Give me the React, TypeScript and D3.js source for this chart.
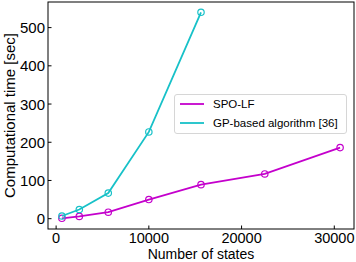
import React from "react";
import * as d3 from "d3";

const states = [625, 2500, 5625, 10000, 15625, 22500, 30625];
const spoLF = [1, 6, 17, 50, 89, 117, 186];
const gpStates = [625, 2500, 5625, 10000, 15625];
const gpBased = [7, 24, 67, 227, 540];
const xTicks = [0, 10000, 20000, 30000];
const yTicks = [0, 100, 200, 300, 400, 500];

const W = 356;
const H = 262;
const m = { left: 48, right: 354, top: 2, bottom: 229 };
const MAG = "#c400cc";
const CYAN = "#17c1c8";
const FONT = "'Liberation Sans', Arial, sans-serif";

export default function App() {
  const x = d3.scaleLinear().domain([-875, 32125]).range([m.left, m.right]);
  const y = d3.scaleLinear().domain([-27, 567]).range([m.bottom, m.top]);

  const line = d3
    .line<[number, number]>()
    .x((d) => x(d[0]))
    .y((d) => y(d[1]));

  const series = [
    { name: "SPO-LF", color: MAG, pts: states.map((s, i) => [s, spoLF[i]] as [number, number]) },
    { name: "GP-based algorithm [36]", color: CYAN, pts: gpStates.map((s, i) => [s, gpBased[i]] as [number, number]) },
  ];

  return (
    <svg width={W} height={H} style={{ position: "absolute", left: 0, top: 0, background: "#fff" }} fontFamily={FONT}>
      {/* series */}
      {series.map((s) => (
        <g key={s.name}>
          <path d={line(s.pts) || ""} fill="none" stroke={s.color} strokeWidth={1.8} />
          {s.pts.map((p, i) => (
            <circle key={i} cx={x(p[0])} cy={y(p[1])} r={3.2} fill="none" stroke={s.color} strokeWidth={1.2} />
          ))}
        </g>
      ))}

      {/* frame */}
      <rect x={m.left} y={m.top} width={m.right - m.left} height={m.bottom - m.top} fill="none" stroke="#000" strokeWidth={1} />

      {/* x ticks */}
      {xTicks.map((t) => (
        <g key={t}>
          <line x1={x(t)} x2={x(t)} y1={m.bottom} y2={m.bottom - 3.5} stroke="#000" />
          <text x={x(t)} y={m.bottom + 14} textAnchor="middle" fontSize={14.5}>{t}</text>
        </g>
      ))}

      {/* y ticks */}
      {yTicks.map((t) => (
        <g key={t}>
          <line x1={m.left} x2={m.left + 3.5} y1={y(t)} y2={y(t)} stroke="#000" />
          <text x={m.left - 3} y={y(t) + 5.5} textAnchor="end" fontSize={15}>{t}</text>
        </g>
      ))}

      <text x={(m.left + m.right) / 2} y={259} textAnchor="middle" fontSize={14}>Number of states</text>
      <text transform={`translate(15,${(m.top + m.bottom) / 2}) rotate(-90)`} textAnchor="middle" fontSize={15}>
        Computational time [sec]
      </text>

      {/* legend */}
      <g>
        <rect x={174.5} y={94.5} width={172} height={39} rx={2.5} fill="#fff" stroke="#d6d6d6" strokeWidth={1} />
        {series.map((s, i) => (
          <g key={s.name} transform={`translate(0,${104 + i * 19})`}>
            <line x1={180} x2={204} y1={0} y2={0} stroke={s.color} strokeWidth={1.8} />
            <text x={213} y={4} fontSize={11.5}>{s.name}</text>
          </g>
        ))}
      </g>
    </svg>
  );
}
